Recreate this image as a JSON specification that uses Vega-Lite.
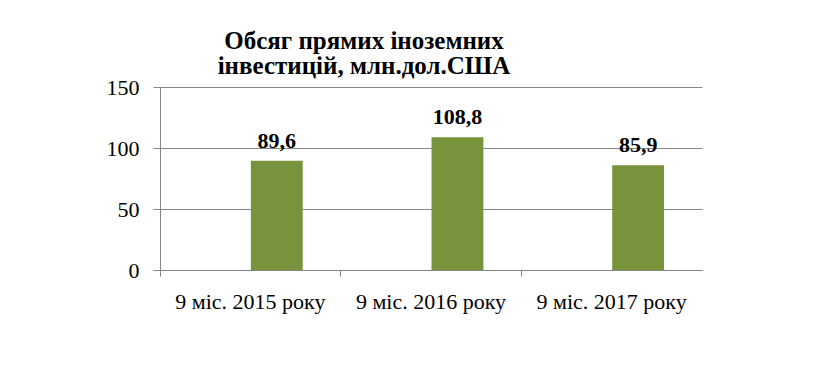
{
  "$schema": "https://vega.github.io/schema/vega-lite/v6.json",
  "width": 542,
  "height": 183,
  "autosize": "none",
  "padding": {"left": 160, "top": 87, "right": 113, "bottom": 103},
  "background": "white",
  "data": {
    "values": [
      {"period": "9 міс. 2015 року", "value": 89.6, "label": "89,6", "series": "Обсяг"},
      {"period": "9 міс. 2016 року", "value": 108.8, "label": "108,8", "series": "Обсяг"},
      {"period": "9 міс. 2017 року", "value": 85.9, "label": "85,9", "series": "Обсяг"}
    ]
  },
  "title": {
    "text": ["Обсяг прямих іноземних", "інвестицій, млн.дол.США"],
    "font": "Liberation Serif",
    "fontSize": 25,
    "fontWeight": "bold",
    "color": "black",
    "anchor": "middle",
    "dx": -67,
    "offset": -3,
    "lineHeight": 25
  },
  "encoding": {
    "x": {
      "field": "period",
      "type": "nominal",
      "sort": null,
      "scale": {"paddingInner": 0, "paddingOuter": 0},
      "axis": {
        "title": null,
        "labelAngle": 0,
        "labelFont": "Liberation Serif",
        "labelFontSize": 22,
        "labelColor": "black",
        "labelPadding": 15,
        "tickSize": 6,
        "tickColor": "#868686",
        "domainColor": "#868686",
        "bandPosition": 0,
        "grid": false
      }
    },
    "xOffset": {
      "field": "series",
      "type": "nominal",
      "scale": {"domain": ["порожньо", "Обсяг"], "paddingInner": 0.02, "paddingOuter": 0.717}
    },
    "y": {
      "field": "value",
      "type": "quantitative",
      "scale": {"domain": [0, 150], "nice": false},
      "axis": {
        "title": null,
        "values": [0, 50, 100, 150],
        "labelFont": "Liberation Serif",
        "labelFontSize": 22,
        "labelColor": "black",
        "labelPadding": 14,
        "tickSize": 7,
        "tickColor": "#868686",
        "domainColor": "#868686",
        "grid": true,
        "gridColor": "#868686"
      }
    }
  },
  "layer": [
    {"mark": {"type": "bar", "color": "#77933C"}},
    {
      "mark": {
        "type": "text",
        "font": "Liberation Serif",
        "fontSize": 22,
        "fontWeight": "bold",
        "color": "black",
        "baseline": "bottom",
        "dy": -8
      },
      "encoding": {"text": {"field": "label"}}
    }
  ],
  "config": {"view": {"stroke": null}}
}
